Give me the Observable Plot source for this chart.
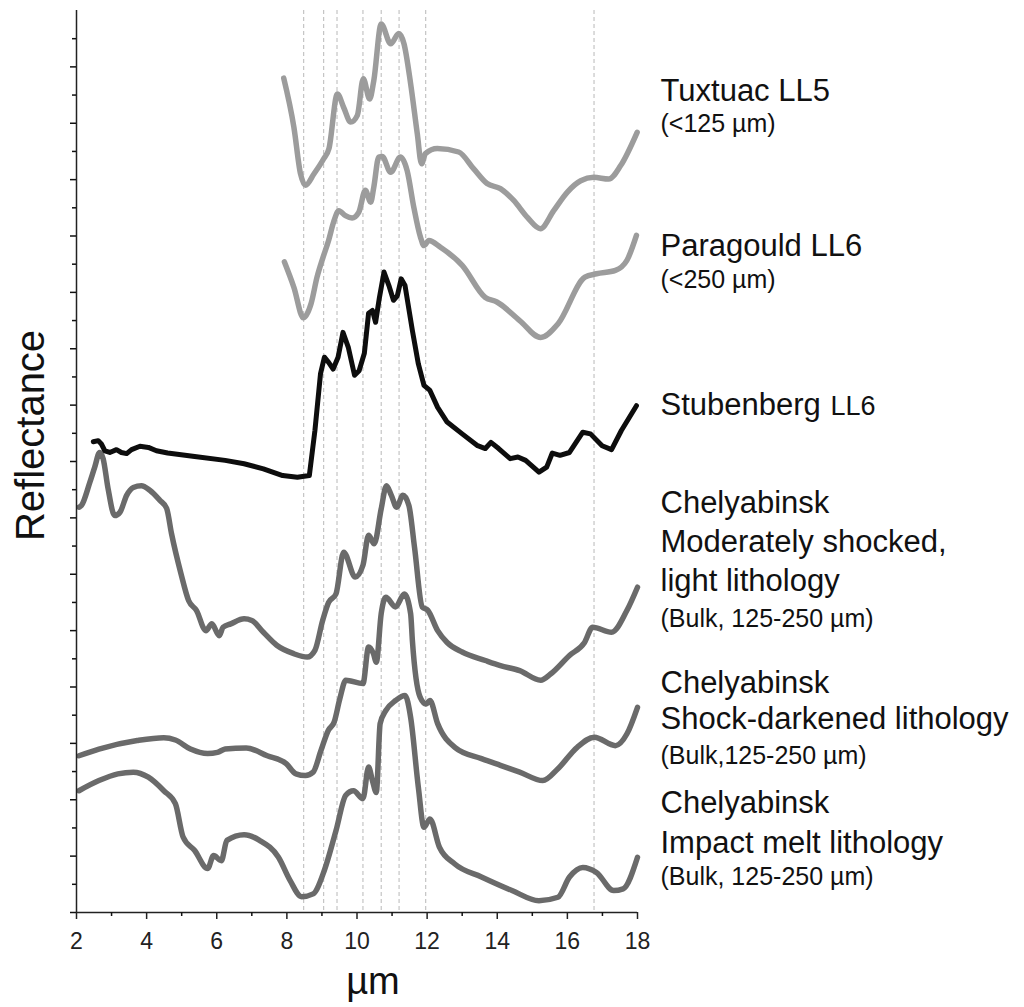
<!DOCTYPE html>
<html><head><meta charset="utf-8">
<script src="https://cdn.jsdelivr.net/npm/d3@7"></script>
<script src="https://cdn.jsdelivr.net/npm/@observablehq/plot@0.6"></script>
<style>html,body{margin:0;padding:0;background:#fff;}</style>
</head><body><div id="chart"></div>
<script>
// Wavelength (µm) vs. offset reflectance (one unit = one major y tick)
const tuxtuac = [[7.91,14.80],[8.20,13.93],[8.39,13.10],[8.53,12.90],[8.77,13.10],[9.05,13.37],[9.20,13.55],[9.44,14.52],[9.62,14.28],[9.82,14.02],[10.01,14.14],[10.18,14.79],[10.36,14.43],[10.48,14.76],[10.69,15.76],[10.96,15.41],[11.19,15.59],[11.34,15.41],[11.53,14.70],[11.72,13.81],[11.84,13.28],[11.95,13.46],[12.29,13.55],[12.90,13.49],[13.33,13.19],[13.71,12.93],[14.09,12.84],[14.47,12.63],[14.86,12.33],[15.23,12.13],[15.61,12.45],[16.00,12.78],[16.38,12.98],[16.75,13.04],[17.18,13.01],[17.52,13.25],[17.99,13.84]];
const paragould = [[7.93,11.54],[8.20,11.09],[8.47,10.55],[8.69,10.80],[8.86,11.27],[9.02,11.60],[9.19,11.92],[9.33,12.24],[9.48,12.45],[9.67,12.36],[9.86,12.32],[10.05,12.42],[10.24,12.81],[10.39,12.60],[10.48,12.87],[10.62,13.40],[10.72,13.41],[10.96,13.13],[11.24,13.40],[11.43,13.16],[11.62,12.51],[11.81,11.98],[11.91,11.83],[12.05,11.92],[12.38,11.80],[13.00,11.48],[13.66,10.91],[13.99,10.83],[14.64,10.50],[15.24,10.20],[15.73,10.44],[16.50,11.27],[16.83,11.33],[17.37,11.39],[17.70,11.57],[17.97,12.01]];
const stubenberg = [[2.48,8.35],[2.62,8.37],[2.71,8.31],[2.81,8.19],[2.95,8.16],[3.14,8.21],[3.28,8.16],[3.43,8.14],[3.57,8.21],[3.81,8.27],[4.05,8.25],[4.28,8.19],[4.60,8.15],[5.37,8.09],[6.24,8.02],[6.78,7.96],[7.33,7.87],[7.88,7.75],[8.30,7.72],[8.64,7.75],[8.80,8.55],[8.96,9.56],[9.07,9.85],[9.19,9.76],[9.32,9.64],[9.46,9.85],[9.60,10.29],[9.75,10.03],[9.93,9.53],[10.06,9.61],[10.21,9.92],[10.33,10.63],[10.44,10.68],[10.53,10.47],[10.64,10.91],[10.77,11.36],[10.91,11.12],[11.04,10.86],[11.15,10.94],[11.26,11.24],[11.37,11.12],[11.58,10.32],[11.75,9.73],[11.91,9.35],[12.08,9.26],[12.30,8.96],[12.57,8.70],[13.00,8.49],[13.44,8.28],[13.66,8.23],[13.82,8.34],[14.04,8.23],[14.37,8.05],[14.59,8.08],[14.81,8.02],[15.19,7.81],[15.41,7.90],[15.57,8.15],[15.79,8.11],[16.06,8.16],[16.44,8.52],[16.66,8.49],[16.99,8.28],[17.26,8.21],[17.54,8.55],[17.97,8.99]];
const chelyLight = [[2.07,7.19],[2.14,7.22],[2.38,7.63],[2.52,7.90],[2.66,8.16],[2.76,8.05],[2.90,7.52],[3.09,7.04],[3.24,7.10],[3.43,7.40],[3.62,7.54],[3.85,7.57],[4.09,7.49],[4.38,7.31],[4.57,7.17],[4.71,6.72],[4.98,6.01],[5.20,5.53],[5.42,5.36],[5.69,5.00],[5.86,5.12],[6.07,4.91],[6.18,5.06],[6.40,5.12],[6.78,5.21],[7.00,5.18],[7.33,4.97],[7.71,4.74],[8.20,4.59],[8.58,4.53],[8.80,4.65],[9.02,5.18],[9.19,5.50],[9.40,5.65],[9.62,6.39],[9.95,5.95],[10.17,6.16],[10.33,6.69],[10.49,6.54],[10.69,7.16],[10.84,7.57],[10.98,7.40],[11.13,7.19],[11.31,7.40],[11.48,7.22],[11.64,6.48],[11.86,5.42],[12.02,5.36],[12.30,5.00],[12.57,4.79],[13.00,4.62],[13.66,4.47],[14.09,4.38],[14.64,4.29],[15.24,4.12],[15.52,4.23],[16.06,4.56],[16.49,4.79],[16.72,5.06],[17.26,4.97],[17.70,5.36],[18.00,5.77]];
const chelyDark = [[2.07,2.78],[2.64,2.90],[3.73,3.05],[4.49,3.10],[4.82,3.06],[5.25,2.90],[5.74,2.82],[6.02,2.84],[6.24,2.90],[6.84,2.92],[7.44,2.78],[7.98,2.64],[8.26,2.46],[8.53,2.43],[8.75,2.49],[8.97,2.87],[9.18,3.23],[9.35,3.38],[9.51,3.79],[9.68,4.12],[10.17,4.06],[10.33,4.71],[10.47,4.59],[10.55,4.44],[10.69,5.30],[10.82,5.59],[11.10,5.42],[11.35,5.65],[11.53,5.30],[11.58,4.82],[11.80,3.82],[11.97,3.70],[12.08,3.76],[12.30,3.35],[12.79,2.93],[13.55,2.73],[14.09,2.61],[14.64,2.49],[15.30,2.34],[15.73,2.55],[16.28,2.93],[16.77,3.11],[17.37,2.96],[17.70,3.17],[18.00,3.64]];
const chelyMelt = [[2.07,2.16],[2.64,2.34],[3.18,2.46],[3.62,2.49],[4.05,2.40],[4.49,2.16],[4.82,1.93],[5.04,1.34],[5.37,1.10],[5.74,0.78],[5.91,1.01],[6.13,0.92],[6.29,1.28],[6.78,1.38],[7.22,1.28],[7.76,0.98],[8.09,0.57],[8.42,0.28],[8.75,0.33],[9.07,0.75],[9.40,1.45],[9.68,2.08],[9.90,2.16],[10.17,2.02],[10.33,2.58],[10.44,2.34],[10.55,2.13],[10.66,3.35],[10.82,3.58],[11.10,3.76],[11.37,3.85],[11.53,3.46],[11.75,2.22],[11.91,1.51],[12.08,1.66],[12.35,1.16],[12.79,0.86],[13.55,0.63],[14.42,0.39],[15.19,0.21],[15.73,0.27],[16.06,0.63],[16.44,0.80],[16.83,0.71],[17.32,0.39],[17.59,0.42],[18.00,0.98]];

// Reference band positions (µm), dashed lines
const bandLines = [8.48, 9.05, 9.43, 10.17, 10.69, 11.2, 11.96, 16.76];

// Axis ticks
const xMajorTicks = [2, 4, 6, 8, 10, 12, 14, 16, 18];
const xMinorTicks = [3, 5, 7, 9, 11, 13, 15, 17];
const yMajorTicks = [0, 1, 2, 3, 4, 5, 6, 7, 8, 9, 10, 11, 12, 13, 14, 15];
const yMinorTicks = [0.5, 1.5, 2.5, 3.5, 4.5, 5.5, 6.5, 7.5, 8.5, 9.5, 10.5, 11.5, 12.5, 13.5, 14.5, 15.5];

// Labels (text and vertical anchor, in reflectance offset units)
const titleLines = [
  {text: "Tuxtuac LL5", y: 14.40},
  {text: "Paragould LL6", y: 11.65},
  {text: "Chelyabinsk", y: 7.08},
  {text: "Moderately shocked,", y: 6.39},
  {text: "light lithology", y: 5.71},
  {text: "Chelyabinsk", y: 3.90},
  {text: "Shock-darkened lithology", y: 3.25},
  {text: "Chelyabinsk", y: 1.76},
  {text: "Impact melt lithology", y: 1.06}
];
const stubLabel = [{text: "Stubenberg", y: 8.82}];
const stubClass = [{text: "LL6", y: 8.82}];
const subLines = [
  {text: "(<125 µm)", y: 13.84},
  {text: "(<250 µm)", y: 11.07},
  {text: "(Bulk, 125-250 µm)", y: 5.06},
  {text: "(Bulk,125-250 µm)", y: 2.64},
  {text: "(Bulk, 125-250 µm)", y: 0.48}
];

const toRows = pts => pts.map(([x, y]) => ({x, y}));
const lightGray = "#9c9c9c", darkGray = "#6a6a6a";

const lineOpts = (stroke, w, curve) => ({x: "x", y: "y", stroke, strokeWidth: w, curve, strokeLinejoin: "round", strokeLinecap: "round"});

const chart = Plot.plot({
  width: 1024,
  height: 1007,
  marginLeft: 76,
  marginRight: 387,
  marginTop: 10,
  marginBottom: 95,
  style: {fontFamily: "'Liberation Sans', Arial, sans-serif", background: "#fff", color: "#111", overflow: "visible"},
  x: {domain: [2, 18]},
  y: {domain: [0, 16]},
  marks: [
    Plot.ruleX(bandLines, {stroke: "#b8b8b8", strokeWidth: 1, strokeDasharray: "4,3"}),
    Plot.line(toRows(tuxtuac), lineOpts(lightGray, 5.5, "monotone-x")),
    Plot.line(toRows(paragould), lineOpts(lightGray, 5.5, "monotone-x")),
    Plot.line(toRows(chelyLight), lineOpts(darkGray, 5.5, "monotone-x")),
    Plot.line(toRows(chelyDark), lineOpts(darkGray, 5.5, "monotone-x")),
    Plot.line(toRows(chelyMelt), lineOpts(darkGray, 5.5, "monotone-x")),
    Plot.line(toRows(stubenberg), lineOpts("#0d0d0d", 5, "linear")),
    Plot.ruleX([2], {stroke: "#222", strokeWidth: 1.5}),
    Plot.ruleY([0], {stroke: "#222", strokeWidth: 1.5}),
    Plot.axisX({ticks: xMajorTicks, tickSize: 7, tickPadding: 13, fontSize: 23, label: null, strokeWidth: 1.5, color: "#222"}),
    Plot.axisX({ticks: xMinorTicks, tickSize: 4, tickFormat: () => "", label: null, strokeWidth: 1.5}),
    Plot.axisY({ticks: yMajorTicks, tickSize: 6, tickFormat: () => "", label: null, strokeWidth: 1.5}),
    Plot.axisY({ticks: yMinorTicks, tickSize: 4, tickFormat: () => "", label: null, strokeWidth: 1.5}),
    Plot.text(["Reflectance"], {frameAnchor: "left", dx: -33, dy: -26, rotate: -90, textAnchor: "middle", lineAnchor: "bottom", fontSize: 40, fill: "#111"}),
    Plot.text(["µm"], {frameAnchor: "bottom", dx: 16, dy: 81, textAnchor: "middle", lineAnchor: "bottom", fontSize: 38, fill: "#111"}),
    Plot.text(titleLines, {x: () => 18, y: "y", text: "text", dx: 23, textAnchor: "start", lineAnchor: "bottom", fontSize: 31, fill: "#111"}),
    Plot.text(stubLabel, {x: () => 18, y: "y", text: "text", dx: 23, textAnchor: "start", lineAnchor: "bottom", fontSize: 31, fill: "#111"}),
    Plot.text(stubClass, {x: () => 18, y: "y", text: "text", dx: 193, textAnchor: "start", lineAnchor: "bottom", fontSize: 27, fill: "#111"}),
    Plot.text(subLines, {x: () => 18, y: "y", text: "text", dx: 23, textAnchor: "start", lineAnchor: "bottom", fontSize: 25, fill: "#111"})
  ]
});
document.getElementById("chart").appendChild(chart);
</script>
</body></html>
